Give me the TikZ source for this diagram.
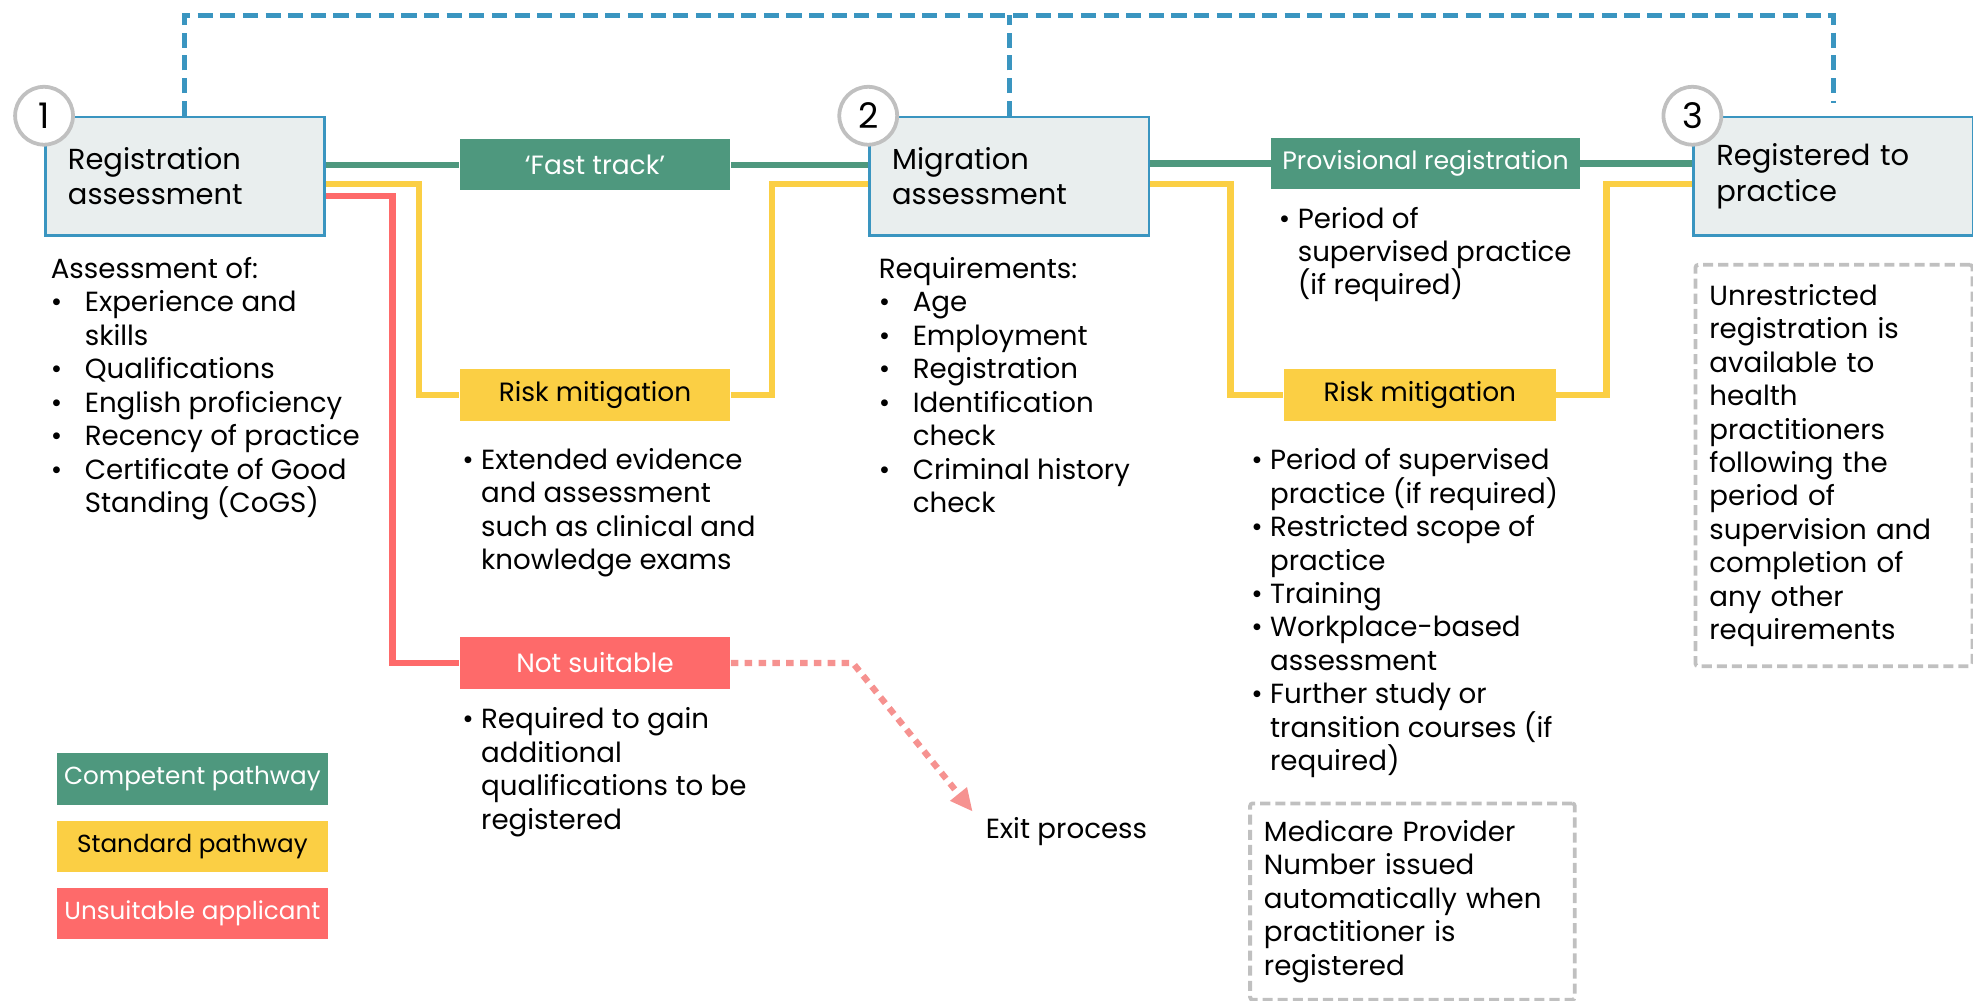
\documentclass[tikz,border=0pt]{standalone}
\usepackage{fontspec}
\setmainfont{Poppins}
\usetikzlibrary{positioning,calc,arrows.meta}

\definecolor{compgreen}{RGB}{78,152,126}
\definecolor{stdyellow}{RGB}{251,207,68}
\definecolor{unfitred}{RGB}{254,106,106}
\definecolor{exitred}{RGB}{246,146,144}
\definecolor{stepblue}{RGB}{58,149,192}
\definecolor{stepfill}{RGB}{233,238,238}
\definecolor{notegrey}{RGB}{192,192,192}

\newcommand{\wbul}{\makebox[13.5pt][l]{\textbullet}}
\newcommand{\wind}{\hspace*{13.5pt}}
\newcommand{\nbul}{\makebox[7.5pt][l]{\textbullet}}
\newcommand{\nind}{\hspace*{7.5pt}}

\begin{document}
\begin{tikzpicture}[%
  x=0.5pt, y=-0.5pt,
  every node/.style={font=\fontsize{11}{13.3}\selectfont},
  stepbox/.style={draw=stepblue, line width=1pt, fill=stepfill, anchor=north west,
    minimum width=111pt, minimum height=47pt, text width=93pt, inner xsep=9pt,
    align=left, font=\fontsize{11.5}{14}\selectfont},
  stepnum/.style={circle, draw=notegrey, line width=1.5pt, fill=white,
    minimum size=23pt, inner sep=0pt, font=\fontsize{14}{14}\selectfont},
  pathbox/.style={anchor=north west, minimum height=20.5pt, inner sep=0pt,
    font=\fontsize{10.5}{12}\selectfont},
  greenbox/.style={pathbox, fill=compgreen, text=white},
  yellowbox/.style={pathbox, fill=stdyellow},
  redbox/.style={pathbox, fill=unfitred, text=white},
  legendbox/.style={minimum width=107.5pt, font=\fontsize{9.8}{12}\selectfont},
  textlist/.style={anchor=north west, align=left, inner sep=0pt,
    execute at begin node=\strut},
  notebox/.style={draw=notegrey, dash pattern=on 4pt off 2pt, line width=1.5pt,
    rounded corners=1pt, anchor=north west, align=left, inner xsep=5.5pt},
  greenline/.style={draw=compgreen, line width=2.5pt},
  yellowline/.style={draw=stdyellow, line width=2.5pt},
  redline/.style={draw=unfitred, line width=2.5pt},
  linkline/.style={draw=stepblue, line width=2pt, dash pattern=on 6pt off 3pt},
  exitline/.style={draw=exitred, line width=2.5pt, dash pattern=on 3pt off 2.5pt,
    -{Triangle[length=9pt,width=8pt]}}]
\useasboundingbox (0,0) rectangle (1568,795);

\node[stepbox] (reg) at (35,92) {Registration\\assessment};
\node[stepbox] (mig) at (690,92) {Migration\\assessment};
\node[stepbox] (reg3) at (1345,92) {Registered to\\practice};
\node[stepnum] (n1) at (reg.north west) {1};
\node[stepnum] (n2) at (mig.north west) {2};
\node[stepnum] (n3) at (reg3.north west) {3};

\node[greenbox, minimum width=107.5pt] (fast) at (365,110) {‘Fast track’};
\node[greenbox, minimum width=122.5pt, font=\fontsize{10}{12}\selectfont] (prov)
  at (1010,109) {Provisional registration};
\node[yellowbox, minimum width=107.5pt] (risk1) at (365,293) {Risk mitigation};
\node[yellowbox, minimum width=108pt] (risk2) at (1020,293) {Risk mitigation};
\node[redbox, minimum width=107.5pt] (unfit) at (365,506) {Not suitable};

\node[greenbox, legendbox] (legc) at (45,598) {Competent pathway};
\node[yellowbox, legendbox] (legs) at (45,652) {Standard pathway};
\node[redbox, legendbox] (legu) at (45,705) {Unsuitable applicant};

\node[textlist] (assess) at (40,204) {Assessment of:\\
  \wbul Experience and\\ \wind skills\\
  \wbul Qualifications\\
  \wbul English proficiency\\
  \wbul Recency of practice\\
  \wbul Certificate of Good\\ \wind Standing (CoGS)};
\node[textlist] (risk1note) at (367,356) {\nbul Extended evidence\\
  \nind and assessment\\ \nind such as clinical and\\ \nind knowledge exams};
\node[textlist] (unfitnote) at (367,562) {\nbul Required to gain\\
  \nind additional\\ \nind qualifications to be\\ \nind registered};
\node[textlist] (req) at (698,204) {Requirements:\\
  \wbul Age\\
  \wbul Employment\\
  \wbul Registration\\
  \wbul Identification\\ \wind check\\
  \wbul Criminal history\\ \wind check};
\node[textlist] (provnote) at (1016,164) {\nbul Period of\\
  \nind supervised practice\\ \nind (if required)};
\node[textlist] (risk2note) at (994,356) {\nbul Period of supervised\\
  \nind practice (if required)\\
  \nbul Restricted scope of\\ \nind practice\\
  \nbul Training\\
  \nbul Workplace-based\\ \nind assessment\\
  \nbul Further study or\\ \nind transition courses (if\\ \nind required)};
\node[anchor=west, inner sep=0pt] (exit) at (783,661) {Exit process};

\node[notebox, minimum width=110pt, minimum height=159.5pt, text width=99pt] (unres)
  at (1346,209) {Unrestricted\\registration is\\available to\\health\\practitioners\\
  following the\\period of\\supervision and\\completion of\\any other\\requirements};
\node[notebox, minimum width=129pt, minimum height=78pt, text width=118pt] (medic)
  at (992,637) {Medicare Provider\\Number issued\\automatically when\\practitioner is\\registered};

\draw[greenline] (reg.east |- fast.west) -- (fast.west);
\draw[greenline] (fast.east) -- (mig.west |- fast.east);
\draw[greenline] (mig.east |- prov.west) -- (prov.west);
\draw[greenline] (prov.east) -- (reg3.west |- prov.east);

\draw[yellowline] ($(reg.east)+(0,6)$) -| ([xshift=-16pt]risk1.west) -- (risk1.west);
\draw[yellowline] (risk1.east) -- ++(33,0) |- ($(mig.west)+(0,6)$);
\draw[yellowline] ($(mig.east)+(0,6)$) -| ([xshift=-21pt]risk2.west) -- (risk2.west);
\draw[yellowline] (risk2.east) -- ++(40,0) |- ($(reg3.west)+(0,6)$);

\draw[redline] ($(reg.east)+(0,16)$) -| ([xshift=-26.5pt]unfit.west) -- (unfit.west);
\draw[exitline] (unfit.east) -- ++(97,0) -- ([shift={(-10,-16)}]exit.west);

\draw[linkline] (reg.north) -- ++(0,-80) -| ([yshift=5pt]reg3.north);
\draw[linkline] (mig.north) -- ++(0,-80);
\end{tikzpicture}
\end{document}
